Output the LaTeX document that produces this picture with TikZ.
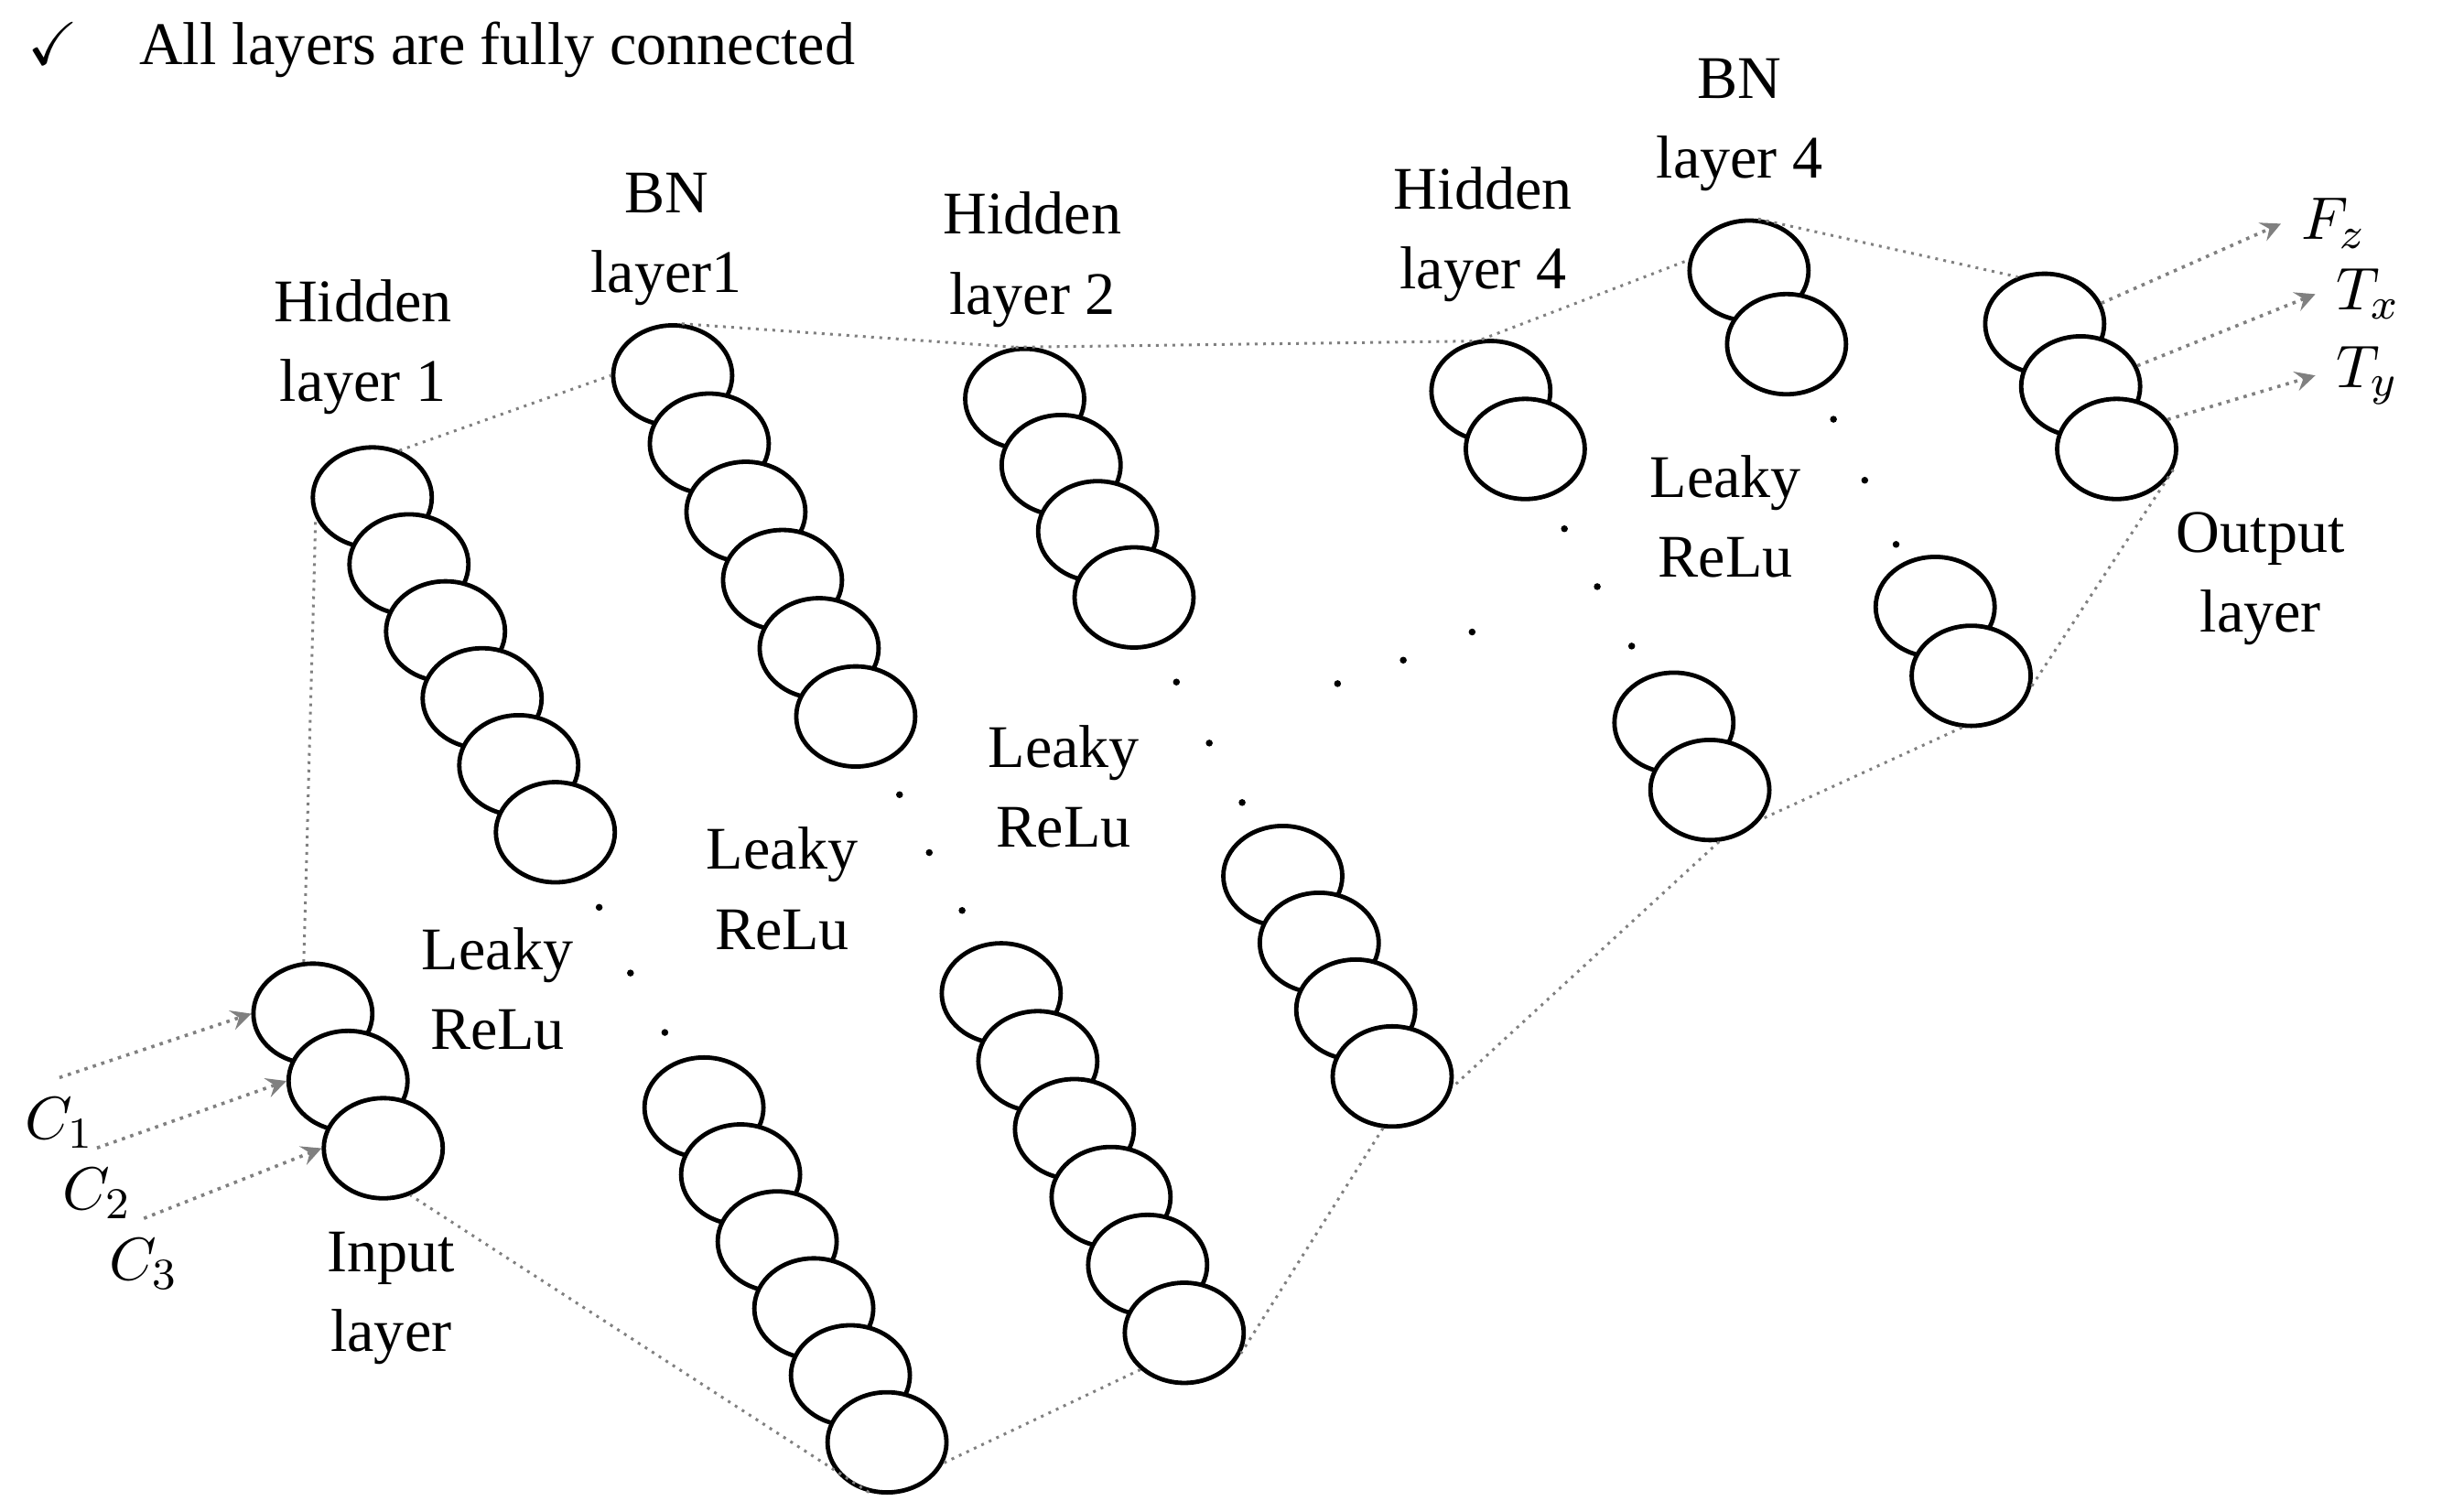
\documentclass[tikz,border=0pt]{standalone}
\usepackage{amsmath}
\usepackage{amssymb}
\usepackage{fontspec}
\setmainfont{Liberation Serif}
\usetikzlibrary{shapes.geometric}
\begin{document}
\begin{tikzpicture}
            [x=0.01cm,y=-0.01cm,thick,
             neuron/.style={ellipse,draw,fill=white,line width=0.8pt,minimum width=0.76cm,minimum height=0.64cm,inner sep=0pt},
             lbl/.style={align=center,font=\fontsize{11}{14.5}\selectfont},
             link/.style={gray,densely dotted,line width=0.5pt},
             io/.style={gray,densely dotted,line width=0.6pt,->,>=stealth}]
            \useasboundingbox (0,0) rectangle (1568,966);
            % layers
            \foreach \i in {1,2,3} \node[neuron] (in\i) at ({200+(\i-1)*22.5},{648+(\i-1)*43}) {};
            \foreach \i in {1,...,6} \node[neuron] (hA\i) at ({238+(\i-1)*23.4},{318+(\i-1)*42.8}) {};
            \foreach \i in {1,...,6} \node[neuron] (lA\i) at ({450+(\i-1)*23.4},{708+(\i-1)*42.8}) {};
            \foreach \i in {1,...,6} \node[neuron] (bA\i) at ({430+(\i-1)*23.4},{240+(\i-1)*43.6}) {};
            \foreach \i in {1,...,6} \node[neuron] (lB\i) at ({640+(\i-1)*23.4},{635+(\i-1)*43.4}) {};
            \foreach \i in {1,...,4} \node[neuron] (hB\i) at ({655+(\i-1)*23.3},{255+(\i-1)*42.3}) {};
            \foreach \i in {1,...,4} \node[neuron] (lC\i) at ({820+(\i-1)*23.3},{560+(\i-1)*42.7}) {};
            \foreach \i in {1,2} \node[neuron] (hD\i) at ({953+(\i-1)*22},{250+(\i-1)*37}) {};
            \foreach \i in {1,2} \node[neuron] (lD\i) at ({1070+(\i-1)*23},{462+(\i-1)*43}) {};
            \foreach \i in {1,2} \node[neuron] (bD\i) at ({1118+(\i-1)*24},{173+(\i-1)*47}) {};
            \foreach \i in {1,2} \node[neuron] (lE\i) at ({1237+(\i-1)*23},{388+(\i-1)*44}) {};
            \foreach \i in {1,2,3} \node[neuron] (out\i) at ({1307+(\i-1)*23},{207+(\i-1)*40}) {};

            % dots
            \foreach \p in {(383,580),(403,622),(425,660),(575,508),(594,545),(615,582),
                            (752,436),(773,475),(794,513),(855,437),(897,422),(941,404),
                            (1000,338),(1021,375),(1043,413),(1172,268),(1192,307),(1212,348)}
                \fill \p circle (2.2);

            % outline
            \draw[link] (in1.100) -- (hA1.200);
            \draw[link] (hA1.60) -- (bA1.180);
            \draw[link] (bA1.80) -- (hB1.100);
            \draw[link] (hB1.100) -- (hD1.110);
            \draw[link] (hD1.100) -- (bD1.170);
            \draw[link] (bD1.80) -- (out1.120);
            \draw[link] (out3.-20) -- (lE2.-10);
            \draw[link] (lE2.-100) -- (lD2.-30);
            \draw[link] (lD2.-80) -- (lC4.-10);
            \draw[link] (lC4.-100) -- (lB6.-20);
            \draw[link] (lB6.-140) -- (lA6.-20);
            \draw[link] (lA6.-110) -- (in3.-60);

            % inputs and outputs
            \node[lbl] (c1) at (38,718) {$C_1$};
            \node[lbl] (c2) at (62,763) {$C_2$};
            \node[lbl] (c3) at (92,808) {$C_3$};
            \draw[io] (c1.north) -- (in1.west);
            \draw[io] (c2.north) -- (in2.west);
            \draw[io] (c3.north) -- (in3.west);
            \node[lbl,anchor=west] (fz) at (1458,143) {$F_z$};
            \node[lbl,anchor=west] (tx) at (1480,188) {$T_x$};
            \node[lbl,anchor=west] (ty) at (1480,240) {$T_y$};
            \draw[io] (out1.20) -- (fz.west);
            \draw[io] (out2.20) -- (tx.west);
            \draw[io] (out3.30) -- (ty.west);

            % labels
            \node[lbl] (tHA) at (232,222) {Hidden\\layer 1};
            \node[lbl] (tBA) at (426,153) {BN\\layer1};
            \node[lbl] (tHB) at (660,166) {Hidden\\layer 2};
            \node[lbl] (tHD) at (948,150) {Hidden\\layer 4};
            \node[lbl] (tBD) at (1112,80) {BN\\layer 4};
            \node[lbl] (tOut) at (1445,370) {Output\\layer};
            \node[lbl] (tIn) at (250,830) {Input\\layer};
            \node[lbl] (rA) at (318,632) {Leaky\\ReLu};
            \node[lbl] (rB) at (500,568) {Leaky\\ReLu};
            \node[lbl] (rC) at (680,503) {Leaky\\ReLu};
            \node[lbl] (rD) at (1103,330) {Leaky\\ReLu};
            \node[lbl,anchor=west] (note) at (5,32) {$\checkmark$\hspace{0.75em} All layers are fully connected};
        \end{tikzpicture}
\end{document}
